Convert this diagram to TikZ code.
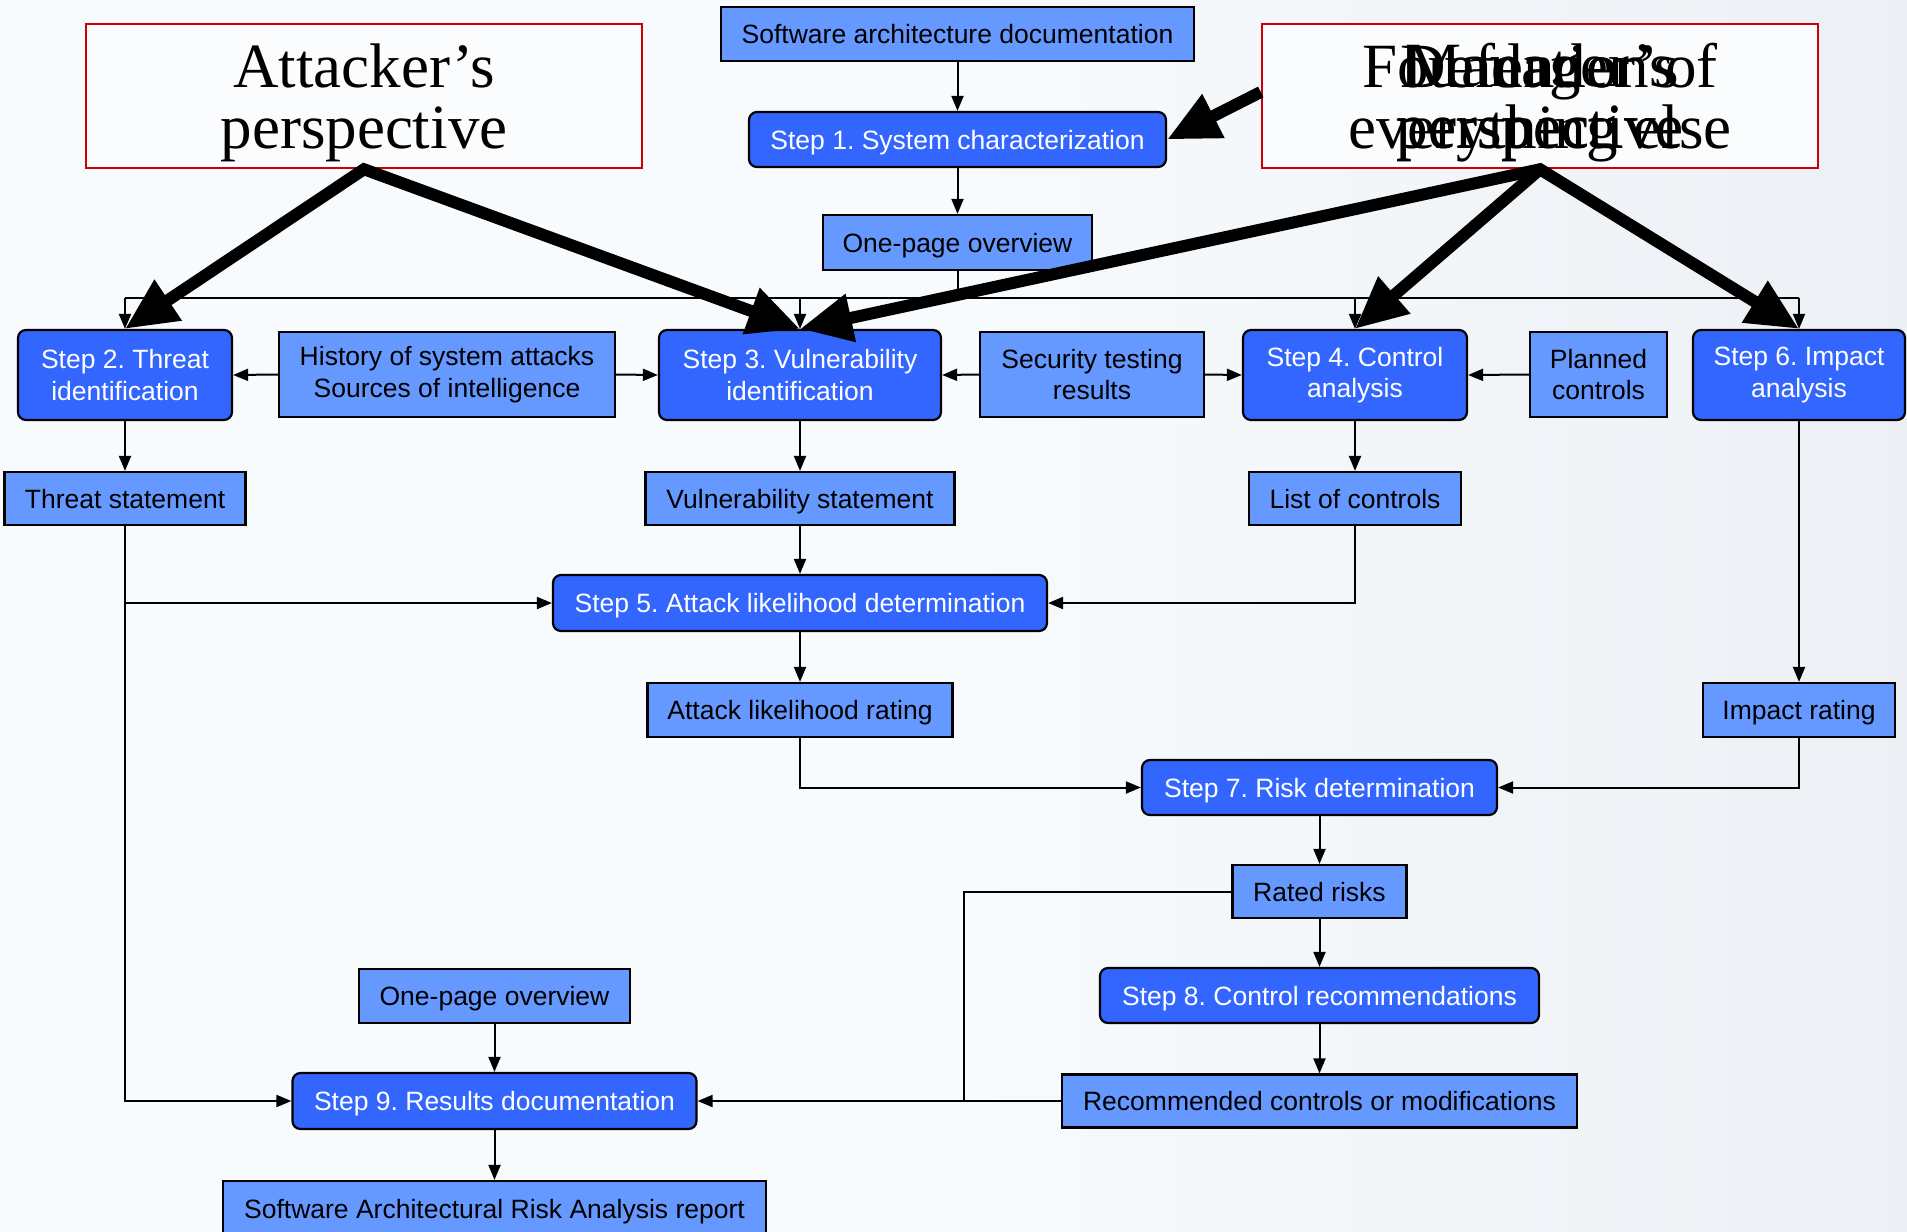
\documentclass[tikz,border=0pt]{standalone}
\usepackage{fontspec}
\setmainfont{Liberation Sans}
\newfontfamily\serifT{Liberation Serif}
\usetikzlibrary{arrows.meta}
\definecolor{stepblue}{HTML}{3366FF}
\definecolor{datablue}{HTML}{6699FF}
\definecolor{persred}{HTML}{CC0000}
\definecolor{bgA}{HTML}{F8FBFD}
\definecolor{bgB}{HTML}{E9EDF2}
\definecolor{bgC}{HTML}{CDD4DC}
\definecolor{boxwhite}{HTML}{FAFCFE}
\pgfdeclarehorizontalshading{bgsh}{100bp}{color(0bp)=(bgA); color(50bp)=(bgA); color(82bp)=(bgB); color(100bp)=(bgC)}
\tikzset{
  base/.style={draw=black, line width=2.2pt, inner sep=0pt, align=center,
    font=\fontsize{26.5}{31.5}\selectfont},
  stepbox/.style={base, fill=stepblue, text=white, rounded corners=8pt},
  databox/.style={base, fill=datablue, text=black},
  oneline/.style={text depth=0pt},
  persp/.style={draw=persred, line width=2.5pt, fill=boxwhite, inner sep=0pt},
  bigtext/.style={font=\serifT\fontsize{63}{61}\selectfont, align=center, inner sep=0pt},
  plain/.style={line width=2pt},
  conn/.style={line width=2pt, -{Triangle[length=15pt,width=12pt]}},
  bigarrow/.style={line width=12pt, line join=miter, -{Triangle[length=52pt,width=46pt]}},
  bigboth/.style={line width=12pt, line join=miter,
    {Triangle[length=52pt,width=46pt]}-{Triangle[length=52pt,width=46pt]}},
}
\begin{document}
\frenchspacing
\begin{tikzpicture}[x=1pt,y=-1pt]
\useasboundingbox (0,0) rectangle (1907,1232);
\shade[shading=bgsh] (0,0) rectangle (1907,1232);

% perspective boxes
\node[persp, minimum width=556pt, minimum height=144pt] (att) at (364,96) {};
\node[bigtext] (atttxt) at (364,103) {Attacker’s\\perspective};
\node[persp, minimum width=556pt, minimum height=144pt] (def) at (1540,96) {};
\node[bigtext] (deftxtA) at (1540,103) {Foundation of\\everything else};
\node[bigtext] (deftxtB) at (1540,103) {Defender’s\\perspective};
\node[bigtext] (deftxtC) at (1540,103) {Manager’s\\perspective};

% top column
\node[databox, oneline, minimum width=473pt, minimum height=54pt] (sad) at (957.5,34) {Software architecture documentation};
\node[stepbox, oneline, minimum width=417pt, minimum height=55pt] (s1) at (957.5,139.5) {Step 1. System characterization};
\node[databox, oneline, minimum width=269pt, minimum height=55pt] (op1) at (957.5,242.5) {One-page overview};

% step row
\node[stepbox, minimum width=214pt, minimum height=90pt] (s2) at (125,375) {Step 2. Threat\\identification};
\node[databox, minimum width=336pt, minimum height=85pt] (hist) at (447,374.5) {History of system attacks\\Sources of intelligence};
\node[stepbox, minimum width=282pt, minimum height=90pt] (s3) at (800,375) {Step 3. Vulnerability\\identification};
\node[databox, minimum width=224pt, minimum height=85pt] (sec) at (1092,374.5) {Security testing\\results};
\node[stepbox, minimum width=224pt, minimum height=90pt] (s4) at (1355,375) {Step 4. Control\\analysis};
\node[databox, minimum width=137pt, minimum height=85pt] (plan) at (1598.5,374.5) {Planned\\controls};
\node[stepbox, minimum width=212pt, minimum height=90pt] (s6) at (1799,375) {Step 6. Impact\\analysis};

% outputs
\node[databox, oneline, minimum width=241pt, minimum height=53pt] (thr) at (125,498.5) {Threat statement};
\node[databox, oneline, minimum width=309pt, minimum height=53pt] (vul) at (800,498.5) {Vulnerability statement};
\node[databox, oneline, minimum width=212pt, minimum height=53pt] (loc) at (1355,498.5) {List of controls};
\node[stepbox, oneline, minimum width=494pt, minimum height=56pt] (s5) at (800,603) {Step 5. Attack likelihood determination};
\node[databox, oneline, minimum width=305pt, minimum height=54pt] (alr) at (800,710) {Attack likelihood rating};
\node[databox, oneline, minimum width=192pt, minimum height=54pt] (imp) at (1799,710) {Impact rating};
\node[stepbox, oneline, minimum width=355pt, minimum height=55pt] (s7) at (1319.5,787.5) {Step 7. Risk determination};
\node[databox, oneline, minimum width=174pt, minimum height=53pt] (rr) at (1319.5,891.5) {Rated risks};
\node[stepbox, oneline, minimum width=439pt, minimum height=55pt] (s8) at (1319.5,995.5) {Step 8. Control recommendations};
\node[databox, oneline, minimum width=515pt, minimum height=53pt] (rec) at (1319.5,1101) {Recommended controls or modifications};
\node[databox, oneline, minimum width=271pt, minimum height=54pt] (op2) at (494.5,996) {One-page overview};
\node[stepbox, oneline, minimum width=404pt, minimum height=56pt] (s9) at (494.5,1101) {Step 9. Results documentation};
\node[databox, oneline, minimum width=543pt, minimum height=55pt] (rep) at (494.5,1208.5) {Software Architectural Risk Analysis report};

\coordinate (bus) at (0,298);
\coordinate (jn) at (964,1101);

% thin connectors
\draw[conn] (sad) -- (s1);
\draw[conn] (s1) -- (op1);
\draw[plain] (op1.south) -- (op1.south |- bus);
\draw[plain] (s2.north |- bus) -- (s6.north |- bus);
\draw[conn] (s2.north |- bus) -- (s2.north);
\draw[conn] (s3.north |- bus) -- (s3.north);
\draw[conn] (s4.north |- bus) -- (s4.north);
\draw[conn] (s6.north |- bus) -- (s6.north);
\draw[conn] (hist.west) -- (s2.east);
\draw[conn] (hist.east) -- (s3.west);
\draw[conn] (sec.west) -- (s3.east);
\draw[conn] (sec.east) -- (s4.west);
\draw[conn] (plan.west) -- (s4.east);
\draw[conn] (s2) -- (thr);
\draw[conn] (s3) -- (vul);
\draw[conn] (s4) -- (loc);
\draw[conn] (s6) -- (imp);
\draw[conn] (vul) -- (s5);
\draw[conn] (thr.south) |- (s9.west);
\draw[conn] (thr.south |- s5.west) -- (s5.west);
\draw[conn] (loc.south) |- (s5.east);
\draw[conn] (s5) -- (alr);
\draw[conn] (alr.south) |- (s7.west);
\draw[conn] (imp.south) |- (s7.east);
\draw[conn] (s7) -- (rr);
\draw[conn] (rr) -- (s8);
\draw[conn] (s8) -- (rec);
\draw[conn] (rec.west) -- (s9.east);
\draw[plain] (rr.west) -| (jn);
\draw[conn] (op2) -- (s9);
\draw[conn] (s9) -- (rep);

% thick perspective arrows
\draw[bigboth] (s2.north) -- (att.south) -- (s3.north);
\draw[bigboth] (s3.north) -- (def.south) -- (s6.north);
\draw[bigarrow] (def.south) -- (s4.north);
\draw[bigarrow] ([yshift=4pt]def.west) -- (s1.east);
\end{tikzpicture}
\end{document}
